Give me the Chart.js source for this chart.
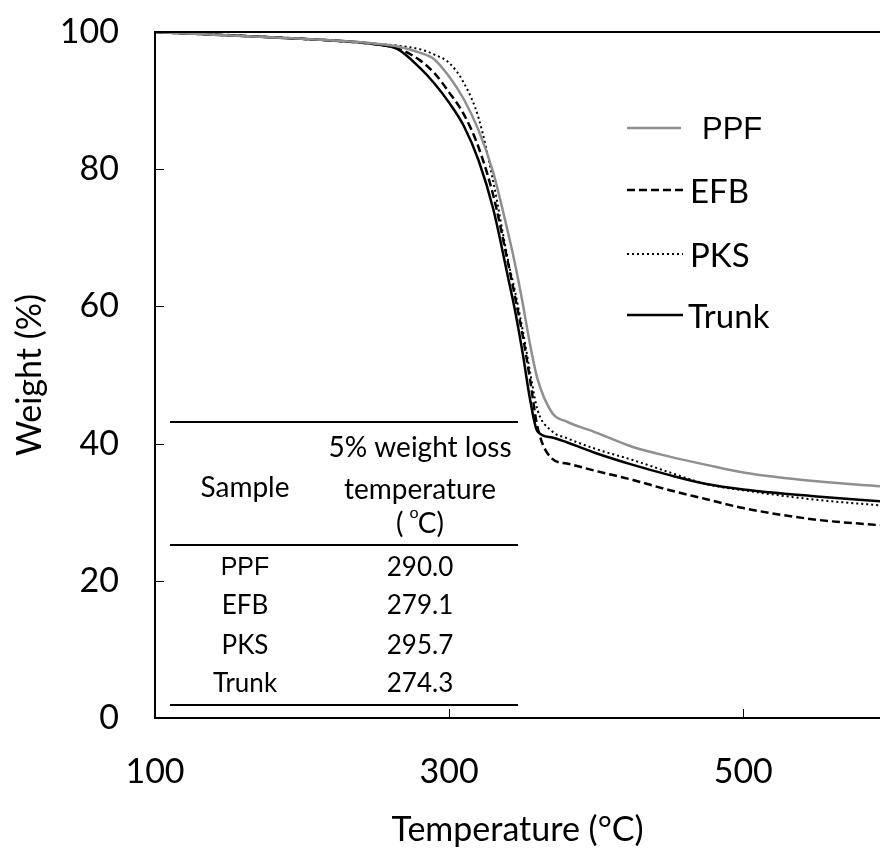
<!DOCTYPE html>
<html>
<head>
<meta charset="utf-8">
<script src="https://cdn.jsdelivr.net/npm/chart.js@4.4.1/dist/chart.umd.min.js"></script>
<style>
  html, body { margin: 0; padding: 0; background: #fff; }
  #wrap { width: 880px; height: 850px; }
</style>
</head>
<body>
<div id="wrap"><canvas id="tga" width="880" height="850"></canvas></div>
<script>
const temps = [100, 200, 250, 265, 280, 290, 300, 310, 320, 330, 340, 345, 350, 355, 360, 370, 380, 400, 425, 450, 475, 500, 550, 593];
const ppf   = [100, 99.0, 98.3, 97.9, 97.0, 96.0, 93.5, 90.2, 85.7, 79.5, 70.8, 66.0, 60.5, 54.5, 49.5, 44.5, 43.2, 41.6, 39.5, 38.1, 36.9, 35.8, 34.5, 33.8];
const efb   = [100, 99.0, 98.2, 97.6, 95.9, 94.0, 91.2, 88.0, 83.2, 76.2, 66.4, 61.2, 55.8, 49.4, 42.5, 37.8, 37.1, 36.0, 34.7, 33.2, 31.9, 30.6, 28.9, 28.1];
const pks   = [100, 99.0, 98.3, 98.0, 97.5, 96.7, 95.5, 92.6, 87.5, 78.2, 66.8, 62.0, 56.6, 50.5, 45.0, 41.8, 40.8, 39.2, 37.6, 35.8, 34.1, 33.2, 31.8, 31.0];
const trunk = [100, 99.0, 98.2, 97.5, 94.8, 92.5, 89.7, 86.3, 81.3, 74.2, 64.3, 59.2, 53.2, 46.5, 41.8, 40.9, 40.2, 38.6, 36.9, 35.4, 34.1, 33.3, 32.3, 31.6];

const xTicks = [100, 300, 500];
const yTicks = [0, 20, 40, 60, 80, 100];

// inset table: 5% weight loss temperature
const tableSamples = ["PPF", "EFB", "PKS", "Trunk"];
const tableTemps = ["290.0", "279.1", "295.7", "274.3"];

const FONT = "Lato, 'Open Sans', sans-serif";

function pts(ys) {
  return temps.map((t, i) => ({ x: t, y: ys[i] }));
}

const series = [
  { label: "PPF", data: pts(ppf), borderColor: "#8f8f8f", borderWidth: 2.5, borderDash: [] },
  { label: "EFB", data: pts(efb), borderColor: "#000", borderWidth: 2.5, borderDash: [8, 4] },
  { label: "PKS", data: pts(pks), borderColor: "#000", borderWidth: 2, borderDash: [2, 3] },
  { label: "Trunk", data: pts(trunk), borderColor: "#000", borderWidth: 2.5, borderDash: [] },
];

function noPad(s) {
  s.paddingTop = 0; s.paddingBottom = 0; s.paddingLeft = 0; s.paddingRight = 0;
}

// frame, inward tick marks, legend and table
const extras = {
  id: "extras",
  afterDraw(chart) {
    const ctx = chart.ctx;
    const a = chart.chartArea;
    const xs = chart.scales.x, ys = chart.scales.y;
    ctx.save();
    ctx.strokeStyle = "#000";
    ctx.lineWidth = 2;
    ctx.beginPath();
    ctx.moveTo(880, a.top); ctx.lineTo(a.left, a.top);
    ctx.lineTo(a.left, a.bottom); ctx.lineTo(880, a.bottom);
    ctx.stroke();
    ctx.lineWidth = 1;
    ctx.beginPath();
    xTicks.forEach(v => {
      const px = Math.round(xs.getPixelForValue(v)) + 0.5;
      ctx.moveTo(px, a.bottom); ctx.lineTo(px, a.bottom - 9);
    });
    yTicks.forEach(v => {
      const py = Math.round(ys.getPixelForValue(v)) + 0.5;
      ctx.moveTo(a.left, py); ctx.lineTo(a.left + 9, py);
    });
    ctx.stroke();

    // legend
    const lx0 = 627, lx1 = 683;
    const legY = [128, 190, 254, 315];
    const legX = [702, 690, 690, 688];
    chart.data.datasets.forEach((ds, i) => {
      ctx.strokeStyle = ds.borderColor;
      ctx.lineWidth = ds.borderWidth;
      ctx.setLineDash(ds.borderDash);
      ctx.beginPath();
      ctx.moveTo(lx0, legY[i]); ctx.lineTo(i === 0 ? 681 : lx1, legY[i]);
      ctx.stroke();
      ctx.setLineDash([]);
      ctx.fillStyle = "#000";
      ctx.font = i === 0 ? "31px 'Liberation Sans', Arial, sans-serif" : "33px " + FONT;
      ctx.textAlign = "left";
      ctx.textBaseline = "middle";
      ctx.fillText(ds.label, legX[i], legY[i] + 2);
    });

    // table
    const tx0 = 170, tx1 = 518;
    ctx.strokeStyle = "#000";
    ctx.lineWidth = 2;
    ctx.beginPath();
    [422, 545, 705].forEach(y => { ctx.moveTo(tx0, y); ctx.lineTo(tx1, y); });
    ctx.stroke();
    ctx.font = "28px " + FONT;
    ctx.textAlign = "center";
    ctx.textBaseline = "middle";
    const c1 = 245, c2 = 420;
    ctx.fillText("Sample", c1, 488);
    ctx.fillText("5% weight loss", c2, 448);
    ctx.fillText("temperature", c2, 490);
    ctx.fillText("(  C)", c2, 524);
    ctx.font = "16px " + FONT;
    ctx.fillText("o", c2 - 6, 513);
    const rowY = [568, 606, 646, 684];
    tableSamples.forEach((s, i) => {
      ctx.font = i === 0 ? "25px 'Liberation Sans', Arial, sans-serif" : "26px " + FONT;
      ctx.fillText(s, c1, rowY[i]);
      ctx.font = "26px " + FONT;
      ctx.fillText(tableTemps[i], c2, rowY[i]);
    });
    ctx.restore();
  }
};

new Chart(document.getElementById("tga"), {
  type: "line",
  data: {
    datasets: series.map(s => ({
      label: s.label,
      data: s.data,
      borderColor: s.borderColor,
      borderWidth: s.borderWidth,
      borderDash: s.borderDash,
      pointRadius: 0,
      fill: false,
      cubicInterpolationMode: "monotone",
    })),
  },
  options: {
    responsive: false,
    animation: false,
    layout: { padding: { top: 32, right: 0, left: 0, bottom: 0 } },
    plugins: { legend: { display: false }, tooltip: { enabled: false } },
    scales: {
      x: {
        type: "linear",
        min: 100,
        max: 593,
        afterBuildTicks: s => { s.ticks = xTicks.map(v => ({ value: v })); },
        afterFit: s => { s.height = 132; noPad(s); },
        grid: { display: false, drawTicks: false },
        border: { display: false },
        ticks: { padding: 34, color: "#000", font: { family: FONT, size: 34 } },
        title: { display: true, text: "Temperature (°C)", color: "#000", font: { family: FONT, size: 34 }, padding: { top: 0, bottom: 0 } },
      },
      y: {
        min: 0,
        max: 100,
        afterBuildTicks: s => { s.ticks = yTicks.map(v => ({ value: v })); },
        afterFit: s => { s.width = 155; noPad(s); },
        grid: { display: false, drawTicks: false },
        border: { display: false },
        ticks: { padding: 36, color: "#000", font: { family: FONT, size: 34 } },
        title: { display: true, text: "Weight (%)", color: "#000", font: { family: FONT, size: 34 }, padding: { top: 10, bottom: 0 } },
      },
    },
  },
  plugins: [extras],
});
</script>
</body>
</html>
